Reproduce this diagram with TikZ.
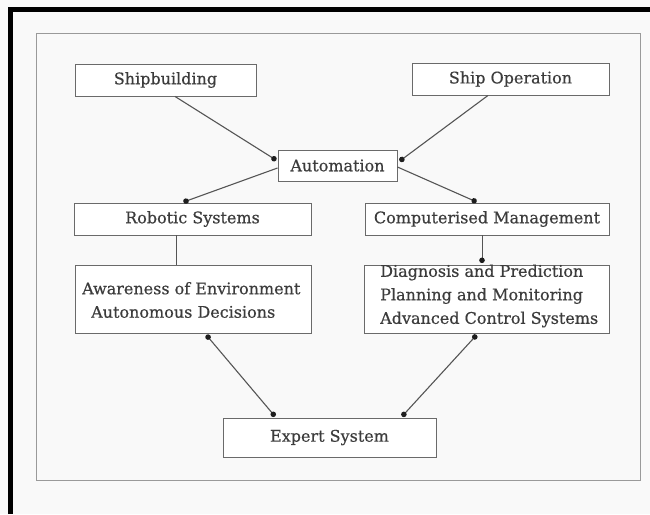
\documentclass[tikz,border=0pt]{standalone}
\usepackage{fontspec}
\setmainfont{DejaVu Serif}[FakeBold=0.5]
\usetikzlibrary{arrows.meta}

\definecolor{paper}{HTML}{F9F9F9}
\definecolor{ink}{HTML}{3C3C3C}
\definecolor{wire}{HTML}{555555}
\definecolor{edge}{HTML}{6A6A6A}
\definecolor{frameline}{HTML}{9A9A9A}
\definecolor{blob}{HTML}{1E1E1E}

\tikzset{
  box/.style={draw=edge, line width=0.9pt, fill=white, inner sep=0pt,
    text=ink, font=\fontsize{16}{23.5}\selectfont},
  boxtext/.style={text=ink, inner sep=0pt, align=left,
    font=\fontsize{16}{23.5}\selectfont},
  link/.style={draw=wire, line width=1.1pt},
  drop/.style={draw=wire, line width=0.7pt},
  dot/.style={-{Circle[length=5.5pt, color=blob]}, shorten >=1.5pt},
  dots/.style={{Circle[length=5.5pt, color=blob]}-{Circle[length=5.5pt, color=blob]},
    shorten >=1.5pt, shorten <=2pt},
}

\begin{document}
\begin{tikzpicture}[x=1pt, y=-1pt]
  % page, outer black frame and inner frame
  \fill[paper] (0,0) rectangle (650,514);
  \useasboundingbox (0,0) rectangle (650,514);
  \draw[black, line width=5pt] (10.5,514) -- (10.5,9.5) -- (650,9.5);
  \draw[frameline, line width=1pt] (36,33) rectangle (640,480);

  % boxes
  \node[box, minimum width=181pt, minimum height=32pt] (ship)   at (165.5,80)   {Shipbuilding};
  \node[box, minimum width=197pt, minimum height=32pt] (oper)   at (510.5,79)   {Ship Operation};
  \node[box, minimum width=119pt, minimum height=31pt] (auto)   at (337.5,165.5) {Automation};
  \node[box, minimum width=237pt, minimum height=32pt] (robo)   at (192.5,219)  {Robotic Systems};
  \node[box, minimum width=244pt, minimum height=32pt] (comp)   at (487,219)    {Computerised Management};
  \node[box, minimum width=236pt, minimum height=68pt] (aware)  at (193,299)    {};
  \node[box, minimum width=245pt, minimum height=68pt] (diag)   at (486.5,299)  {};
  \node[box, minimum width=213pt, minimum height=39pt] (expert) at (329.5,437.5) {Expert System};

  % multi-line box contents
  \node[boxtext, anchor=west] (awaretext) at (82,300)
    {Awareness of Environment\\\hspace*{9pt}Autonomous Decisions};
  \node[boxtext, anchor=west] (diagtext) at (380,296)
    {Diagnosis and Prediction\\Planning and Monitoring\\Advanced Control Systems};

  % connectors
  \draw[link, dot] ([xshift=9.5pt]ship.south) -- ([yshift=4.5pt]auto.west);
  \draw[link, dot] ([xshift=-22.5pt]oper.south) -- ([xshift=1pt, yshift=3.5pt]auto.east);
  \draw[link, dot] ([yshift=-2.5pt]auto.west) -- ([xshift=-10.5pt]robo.north);
  \draw[link, dot] ([yshift=-1.5pt]auto.east) -- ([xshift=-9pt]comp.north);
  \draw[drop] ([xshift=-16.5pt]robo.south) -- ([xshift=-16.5pt]robo.south |- aware.north);
  \draw[drop, dot] ([xshift=-5pt]comp.south) -- ([xshift=-5pt]comp.south |- diag.north);
  \draw[link, dots] ([xshift=12pt]aware.south) -- ([xshift=-53.5pt]expert.north);
  \draw[link, dots] ([xshift=-8.5pt]diag.south) -- ([xshift=71.5pt]expert.north);
\end{tikzpicture}
\end{document}
